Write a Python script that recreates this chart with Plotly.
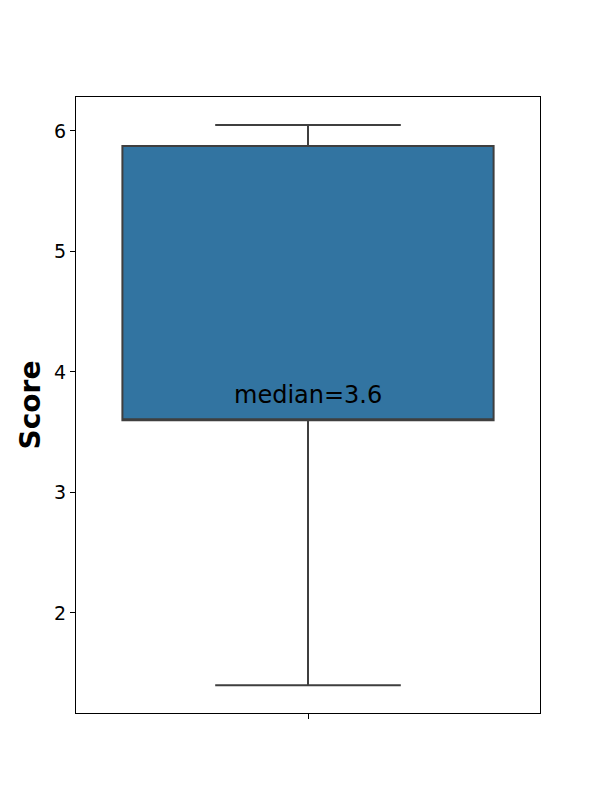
import plotly.graph_objects as go

category = ["Score"]
q1 = [3.6]
median = [3.6]
q3 = [5.875]
lower_whisker = [1.40]
upper_whisker = [6.05]
y_ticks = [2, 3, 4, 5, 6]

fig = go.Figure()
fig.add_trace(go.Box(
    x=[0],
    q1=q1, median=median, q3=q3,
    lowerfence=lower_whisker, upperfence=upper_whisker,
    fillcolor="#3274a1",
    line=dict(color="#3f3f3f", width=2),
    width=0.8,
    whiskerwidth=0.5,
    boxpoints=False,
    showlegend=False,
    hoverinfo="skip",
))

fig.add_annotation(
    x=0, y=median[0] + 0.21,
    text=f"median={median[0]}",
    showarrow=False,
    font=dict(family="DejaVu Sans", size=24, color="black"),
    xanchor="center", yanchor="middle",
)

fig.update_layout(
    width=600, height=800,
    margin=dict(l=68, r=68, t=89, b=95, autoexpand=False),
    plot_bgcolor="white", paper_bgcolor="white",
    font=dict(family="DejaVu Sans", color="black"),
)
fig.update_xaxes(
    range=[-0.5, 0.5],
    tickvals=[0], ticktext=[""],
    ticks="outside", ticklen=5, tickcolor="black",
    showgrid=False, zeroline=False,
    showline=True, linecolor="black", linewidth=1, mirror=True,
)
fig.update_yaxes(
    range=[1.17, 6.282],
    tickvals=y_ticks,
    ticks="outside", ticklen=5, tickcolor="black",
    tickfont=dict(size=19, family="DejaVu Sans"),
    showgrid=False, zeroline=False,
    showline=True, linecolor="black", linewidth=1, mirror=True,
    title=dict(text="<b>Score</b>", font=dict(size=28, family="DejaVu Sans"), standoff=5),
)

fig.write_html("out.html")
